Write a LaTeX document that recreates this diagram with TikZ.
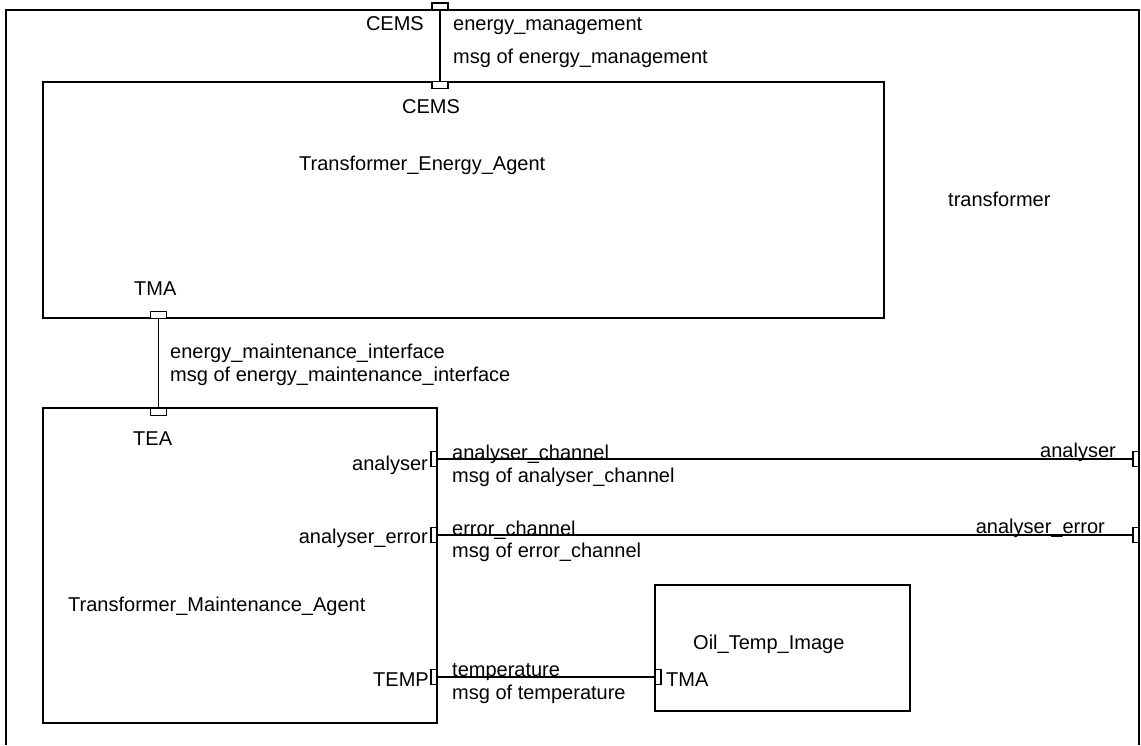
\documentclass[tikz,border=0pt]{standalone}
\usepackage{fontspec}
\setmainfont{Liberation Sans}
\begin{document}
\begin{tikzpicture}[x=1pt,y=-1pt,
  lbl/.style={inner sep=0pt, font=\fontsize{20}{22}\selectfont},
  box/.style={draw, line width=1.6pt, inner sep=0pt},
  porth/.style={draw, fill=white, line width=1.2pt, inner sep=0pt,
                minimum width=16pt, minimum height=7pt},
  portv/.style={draw, fill=white, line width=1.2pt, inner sep=0pt,
                minimum width=6pt, minimum height=15pt},
  wire/.style={line width=1.4pt},
  frame/.style={line width=1.8pt}]
\useasboundingbox (0,0) rectangle (1141,745);

% enclosing "transformer" component (open at the bottom)
\coordinate (fbl) at (6,745);
\coordinate (ftl) at (6,10);
\coordinate (ftr) at (1139,10);
\coordinate (fbr) at (1139,745);
\draw[frame] (fbl) -- (ftl) -- (ftr) -- (fbr);

% sub-components
\node[box, minimum width=841pt, minimum height=236pt] (tea) at (463.5,200) {};
\node[box, minimum width=394pt, minimum height=315pt] (tma) at (240,565.5) {};
\node[box, minimum width=255pt, minimum height=126pt] (oil) at (782.5,648) {};

% ports
\node[porth] (cemsTop) at (440,6.5) {};
\node[porth] (cemsIn)  at (440,85) {};
\node[porth] (tmaOut)  at (158.5,315) {};
\node[porth] (teaIn)   at (158.5,412) {};
\node[portv] (anIn)    at (434,459) {};
\node[portv] (erIn)    at (434,535) {};
\node[portv] (tempOut) at (434,677) {};
\node[portv] (oilIn)   at (658,677) {};
\node[portv] (anOut)   at (1136,459) {};
\node[portv] (erOut)   at (1136,535) {};

% channels
\draw[wire] (cemsTop.south) -- (cemsIn.north);
\draw[wire] (tmaOut.south) -- (teaIn.north);
\draw[wire] (anIn.east) -- (anOut.west);
\draw[wire] (erIn.east) -- (erOut.west);
\draw[wire] (tempOut.east) -- (oilIn.west);

% labels
\node[lbl, anchor=base east] (lCemsTop) at (424,30) {CEMS};
\node[lbl, anchor=base west] (lEm)   at (453,30) {energy\_management};
\node[lbl, anchor=base west] (lEmM)  at (453,63) {msg of energy\_management};
\node[lbl, anchor=base west] (lCemsIn) at (402,113) {CEMS};
\node[lbl, anchor=base west] (lTea)  at (299,170) {Transformer\_Energy\_Agent};
\node[lbl, anchor=base west] (lTr)   at (948,206) {transformer};
\node[lbl, anchor=base west] (lTmaP) at (134,295) {TMA};
\node[lbl, anchor=base west] (lEmi)  at (170,358) {energy\_maintenance\_interface};
\node[lbl, anchor=base west] (lEmiM) at (170,381) {msg of energy\_maintenance\_interface};
\node[lbl, anchor=base west] (lTeaP) at (133,445) {TEA};
\node[lbl, anchor=base east] (lAn)   at (428,470) {analyser};
\node[lbl, anchor=base west] (lAc)   at (452,459) {analyser\_channel};
\node[lbl, anchor=base west] (lAcM)  at (452,482) {msg of analyser\_channel};
\node[lbl, anchor=base east] (lAe)   at (428,543) {analyser\_error};
\node[lbl, anchor=base west] (lEc)   at (452,535) {error\_channel};
\node[lbl, anchor=base west] (lEcM)  at (452,557) {msg of error\_channel};
\node[lbl, anchor=base east] (lAnR)  at (1116,457) {analyser};
\node[lbl, anchor=base east] (lAeR)  at (1105,533) {analyser\_error};
\node[lbl, anchor=base west] (lTma)  at (68,611) {Transformer\_Maintenance\_Agent};
\node[lbl, anchor=base east] (lTemp) at (429,686) {TEMP};
\node[lbl, anchor=base west] (lT)    at (452,676) {temperature};
\node[lbl, anchor=base west] (lTM)   at (452,699) {msg of temperature};
\node[lbl, anchor=base west] (lOil)  at (693,649) {Oil\_Temp\_Image};
\node[lbl, anchor=base west] (lOilP) at (666,686) {TMA};
\end{tikzpicture}
\end{document}
